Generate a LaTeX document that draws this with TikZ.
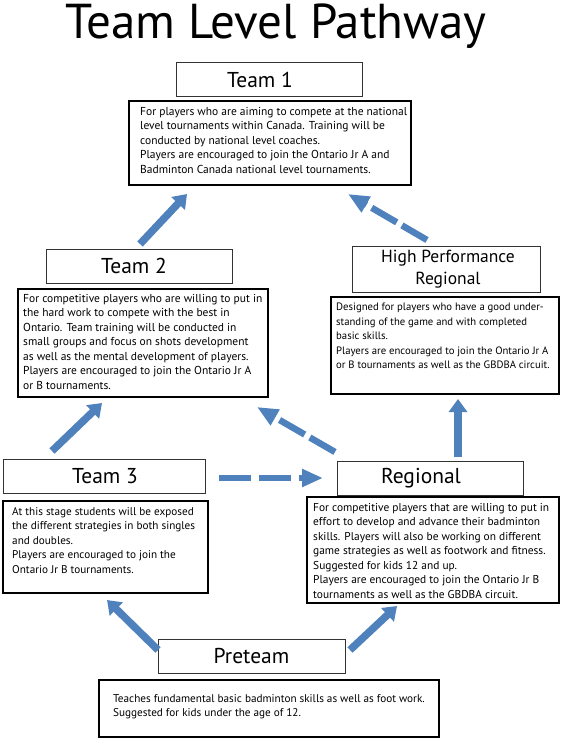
\documentclass[tikz,border=0pt]{standalone}
\usepackage{fontspec}
\setmainfont{PT Sans}
\usetikzlibrary{arrows.meta}
\definecolor{arrowblue}{HTML}{4F81BD}
\definecolor{boxedge}{HTML}{333333}
\begin{document}
\begin{tikzpicture}[x=1pt,y=-1pt,
  titlebox/.style={draw=boxedge, line width=1pt, fill=white, inner sep=0pt},
  titletext/.style={inner sep=0pt, align=center, font=\fontsize{21.5}{24}\selectfont},
  descbox/.style={draw=black, line width=1.2pt, fill=white, inner sep=0pt},
  desctext/.style={anchor=north west, inner sep=0pt, align=left},
  fs/.style={font=\fontsize{#1}{14.5}\selectfont},
  blockarrow/.style={draw=arrowblue, line width=7.5pt, -{Triangle[length=13pt,width=18pt]}},
  dasharrow/.style={draw=arrowblue, line width=6.5pt, dash pattern=on 29pt off 6pt, -{Triangle[length=21pt,width=17pt]}}
]
\useasboundingbox (0,0) rectangle (568,738);
\node[inner sep=0pt, anchor=base, font=\fontsize{49}{52}\selectfont] (title) at (276,39) {Team Level Pathway};

% Team 1
\node[titlebox, minimum width=186pt, minimum height=34pt] (t1) at (269,80) {};
\node[titletext] (t1l) at (260,80) {Team 1};
\node[descbox, minimum width=282pt, minimum height=84pt] (t1d) at (270,143) {};
\node[desctext, fs=11.5] (t1t) at (140,107) {For players who are aiming to compete at the national\\level tournaments within Canada. Training will be\\conducted by national level coaches.\\Players are encouraged to join the Ontario Jr A and\\Badminton Canada national level tournaments.};

% Team 2
\node[titlebox, minimum width=186pt, minimum height=34pt] (t2) at (139,266) {};
\node[titletext] (t2l) at (134,266) {Team 2};
\node[descbox, minimum width=250pt, minimum height=108pt] (t2d) at (143,343) {};
\node[desctext, fs=11.5] (t2t) at (23,294) {For competitive players who are willing to put in\\the hard work to compete with the best in\\Ontario. Team training will be conducted in\\small groups and focus on shots development\\as well as the mental development of players.\\Players are encouraged to join the Ontario Jr A\\or B tournaments.};

% High Performance Regional
\node[titlebox, minimum width=188pt, minimum height=46pt] (hpr) at (446,269) {};
\node[titletext, font=\fontsize{17.5}{22}\selectfont] (hprl) at (448,269) {High Performance\\Regional};
\node[descbox, minimum width=228pt, minimum height=97pt] (hprd) at (445,345.5) {};
\node[desctext, fs=10.7] (hprt) at (336,303) {Designed for players who have a good under-\\standing of the game and with completed\\basic skills.\\Players are encouraged to join the Ontario Jr A\\or B tournaments as well as the GBDBA circuit.};

% Team 3
\node[titlebox, minimum width=202pt, minimum height=34pt] (t3) at (104,476) {};
\node[titletext] (t3l) at (105,476) {Team 3};
\node[descbox, minimum width=205pt, minimum height=92pt] (t3d) at (105.5,547) {};
\node[desctext, fs=11.2] (t3t) at (12,507) {At this stage students will be exposed\\the different strategies in both singles\\and doubles.\\Players are encouraged to join the\\Ontario Jr B tournaments.};

% Regional
\node[titlebox, minimum width=186pt, minimum height=34pt] (reg) at (430,478) {};
\node[titletext] (regl) at (421,478) {Regional};
\node[descbox, minimum width=252pt, minimum height=106pt] (regd) at (433,550) {};
\node[desctext, fs=11.4] (regt) at (313,503) {For competitive players that are willing to put in\\effort to develop and advance their badminton\\skills. Players will also be working on different\\game strategies as well as footwork and fitness.\\Suggested for kids 12 and up.\\Players are encouraged to join the Ontario Jr B\\tournaments as well as the GBDBA circuit.};

% Preteam
\node[titlebox, minimum width=187pt, minimum height=34pt] (pre) at (251.5,656) {};
\node[titletext] (prel) at (251.5,656) {Preteam};
\node[descbox, minimum width=340pt, minimum height=57pt] (pred) at (269,708.5) {};
\node[desctext, fs=11.2] (pret) at (113,694) {Teaches fundamental basic badminton skills as well as foot work.\\Suggested for kids under the age of 12.};

% arrow end points
\coordinate (a1s) at (52,451);   \coordinate (a1e) at (102,403);
\coordinate (a2s) at (140,244);  \coordinate (a2e) at (187,194);
\coordinate (a3s) at (427,240);  \coordinate (a3e) at (348,194);
\coordinate (a4s) at (219,478);  \coordinate (a4e) at (323,478);
\coordinate (a5s) at (335,452);  \coordinate (a5e) at (257,407);
\coordinate (a6s) at (458,457);  \coordinate (a6e) at (458,399);
\coordinate (a7s) at (158,650);  \coordinate (a7e) at (107,600);
\coordinate (a8s) at (350,650);  \coordinate (a8e) at (397,606);

\draw[blockarrow] (a1s) -- (a1e);
\draw[blockarrow] (a2s) -- (a2e);
\draw[dasharrow] (a3s) -- (a3e);
\draw[dasharrow, dash pattern=on 32pt off 8pt] (a4s) -- (a4e);
\draw[dasharrow] (a5s) -- (a5e);
\draw[blockarrow] (a6s) -- (a6e);
\draw[blockarrow] (a7s) -- (a7e);
\draw[blockarrow] (a8s) -- (a8e);
\end{tikzpicture}
\end{document}
